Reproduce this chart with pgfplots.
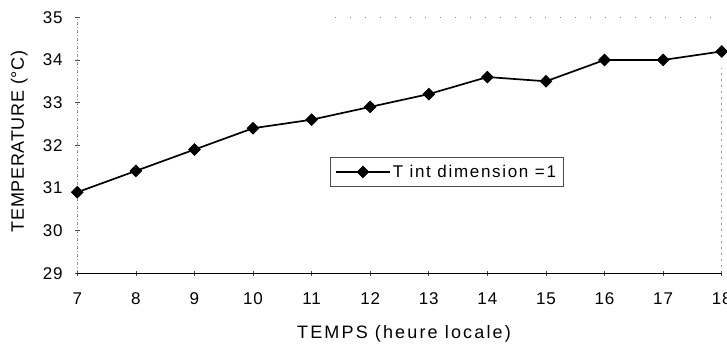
\documentclass[border=0pt]{standalone}
\usepackage{fontspec}
\setmainfont{Liberation Sans}
\newfontfamily\tickfont[LetterSpace=5]{Liberation Sans}
\newfontfamily\xlabfont[LetterSpace=12]{Liberation Sans}
\newfontfamily\ylabfont[LetterSpace=4]{Liberation Sans}
\newfontfamily\legfont[LetterSpace=10]{Liberation Sans}
\usepackage{pgfplots}
\pgfplotsset{compat=1.18}

\begin{document}
\begin{tikzpicture}
\begin{axis}[
    name=ax,
    scale only axis,
    width=644.4pt, height=256pt,
    xmin=7, xmax=18, ymin=29, ymax=35,
    xtick={7,...,18}, ytick={29,...,35},
    xtick pos=bottom, ytick pos=left,
    axis line style={draw=none},
    tick align=center,
    major tick length=5pt,
    tick style={black!70, line width=0.6pt},
    /pgf/number format/assume math mode=true,
    ticklabel style={font=\tickfont\fontsize{17}{20}\selectfont},
    yticklabel style={inner sep=0pt, xshift=-12pt},
    xticklabel style={inner sep=0pt, yshift=-17pt},
    xlabel={TEMPS (heure locale)},
    ylabel={TEMPERATURE (°C)},
    xlabel style={font=\xlabfont\fontsize{18}{21}\selectfont,
        at={(axis description cs:0.507,0)}, anchor=center, yshift=-61pt},
    ylabel style={font=\ylabfont\fontsize{18}{21}\selectfont,
        at={(axis description cs:0,0.515)}, anchor=center, yshift=58pt},
    legend style={at={(axis description cs:0.573,0.396)}, anchor=center,
        draw=black!70, line width=0.7pt, inner xsep=5pt, inner ysep=6pt,
        font=\legfont\fontsize{17}{20}\selectfont},
    legend image code/.code={
        \draw[#1, mark repeat=2, mark phase=2]
            plot coordinates {(0pt,0pt) (27pt,0pt) (54pt,0pt)};},
]
% frame of the plot area, as faint as in the scan
\draw[black, line width=1.2pt] (rel axis cs:0,0) -- (rel axis cs:1,0);
\draw[black!60, line width=0.6pt, dash pattern=on 3pt off 2pt on 1pt off 2pt]
    (rel axis cs:0,0) -- (rel axis cs:0,1);
\draw[black!50, line width=0.8pt, dash pattern=on 1pt off 14pt]
    (rel axis cs:0.4,1) -- (rel axis cs:1,1);
\draw[black!60, line width=0.6pt, dash pattern=on 2pt off 4pt]
    (rel axis cs:1,0) -- (rel axis cs:1,0.8);

\addplot[black, line width=1.7pt, mark=square*, mark size=4.1pt,
    mark options={rotate=45, solid, line width=0.8pt}]
    coordinates {(7,30.9) (8,31.4) (9,31.9) (10,32.4) (11,32.6) (12,32.9)
                 (13,33.2) (14,33.6) (15,33.5) (16,34.0) (17,34.0) (18,34.2)};
\legend{T int dimension =1}
\end{axis}
\pgfresetboundingbox
\path ([xshift=-77.3pt, yshift=-76pt]ax.south west)
    rectangle ([xshift=5.3pt, yshift=17.3pt]ax.north east);
\end{tikzpicture}
\end{document}
